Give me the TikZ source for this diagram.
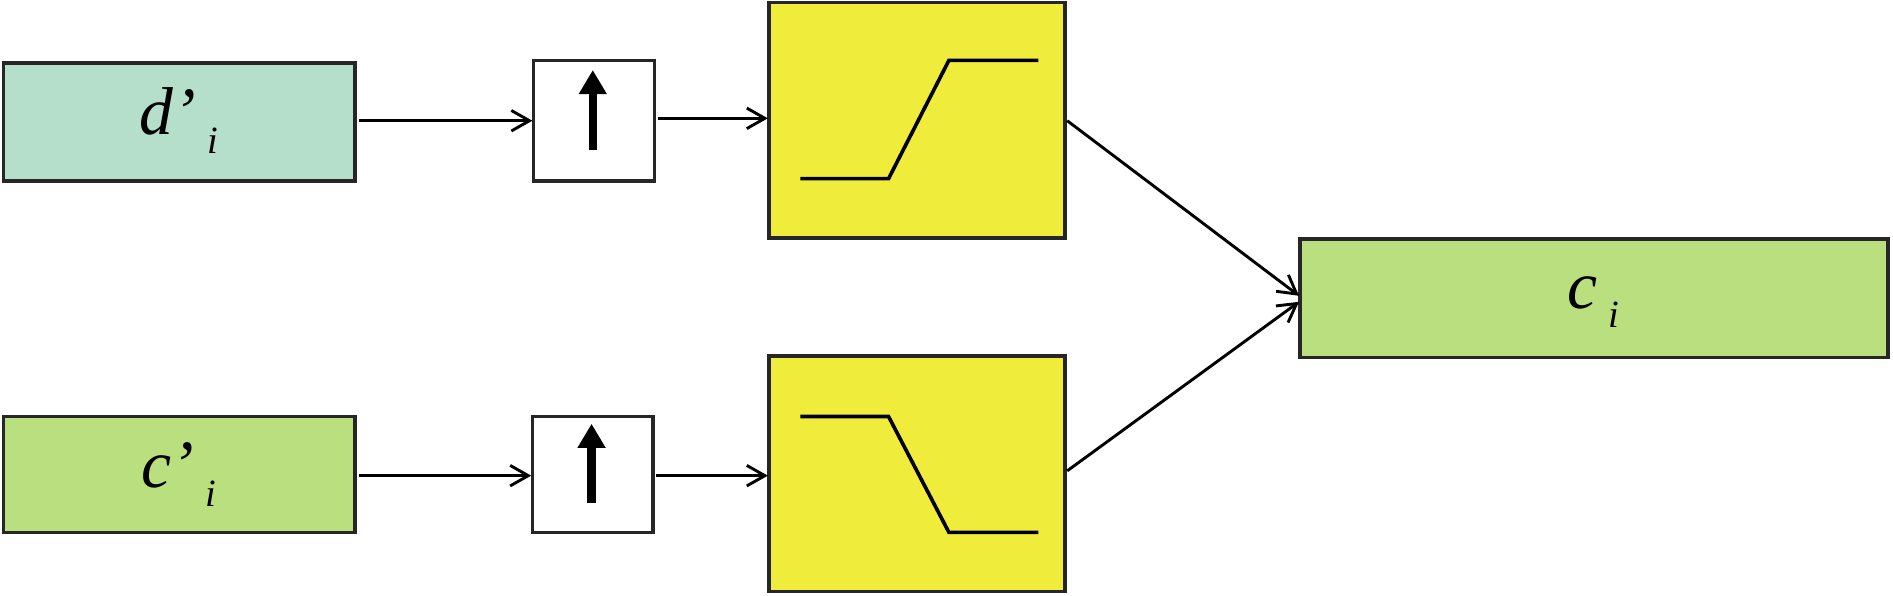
\documentclass[tikz,border=0pt]{standalone}
\usepackage{fontspec}
\setmainfont{Liberation Serif}
\usetikzlibrary{arrows.meta}
\definecolor{cyanbox}{HTML}{B5DFCB}
\definecolor{greenbox}{HTML}{BADF7F}
\definecolor{yel}{HTML}{F0EC3C}
\begin{document}
\begin{tikzpicture}[x=1pt,y=-1pt,
  blk/.style={draw=black!85,line width=3pt},
  conn/.style={line width=2.4pt,-{Straight Barb[length=15pt,width=17pt,line width=2.4pt]}},
  lbl/.style={font=\fontsize{56}{60}\selectfont\itshape}]
\useasboundingbox (0,0) rectangle (1568,493);
\newcommand{\sub}[1]{\raisebox{-16pt}{\fontsize{32}{34}\selectfont #1}}
\draw[blk,fill=cyanbox] (3,52) rectangle (294,150);
\node[lbl] (d) at (148,100) {d’\,\sub{i}};
\coordinate (dR) at (297,100);
\draw[blk,fill=greenbox] (3,345) rectangle (294,441);
\node[lbl] (c) at (148,393) {c’\,\sub{i}};
\coordinate (cR) at (297,394);
\draw[blk,fill=white] (442,50) rectangle (542,150);
\draw[blk,fill=white] (441,345) rectangle (541,441);
\foreach \x/\y in {491/124,490/417}{
  \draw[line width=7pt,-{Triangle[length=20pt,width=22pt]}] (\x,\y) -- (\x,\y-66);
}
\draw[blk,fill=yel] (637,2) rectangle (882,197);
\draw[blk,fill=yel] (637,295) rectangle (882,490);
\draw[line width=3pt] (663,148) -- (736,148) -- (786,50) -- (860,50);
\draw[line width=3pt] (663,345) -- (736,345) -- (786,441) -- (860,441);
\draw[blk,fill=greenbox] (1077,198) rectangle (1564,296);
\node[lbl] (ci) at (1320,250) {c\,\sub{i}};
\coordinate (u1L) at (441,100); \coordinate (u1R) at (545,98);
\coordinate (u2L) at (440,394); \coordinate (u2R) at (543,394);
\coordinate (y1L) at (636,98); \coordinate (y1R) at (884,100);
\coordinate (y2L) at (636,394); \coordinate (y2R) at (884,390);
\coordinate (ciA) at (1076,245); \coordinate (ciB) at (1076,250);
\draw[conn] (dR) -- (u1L);
\draw[conn] (u1R) -- (y1L);
\draw[conn] (cR) -- (u2L);
\draw[conn] (u2R) -- (y2L);
\draw[conn] (y1R) -- (ciA);
\draw[conn] (y2R) -- (ciB);
\end{tikzpicture}
\end{document}
